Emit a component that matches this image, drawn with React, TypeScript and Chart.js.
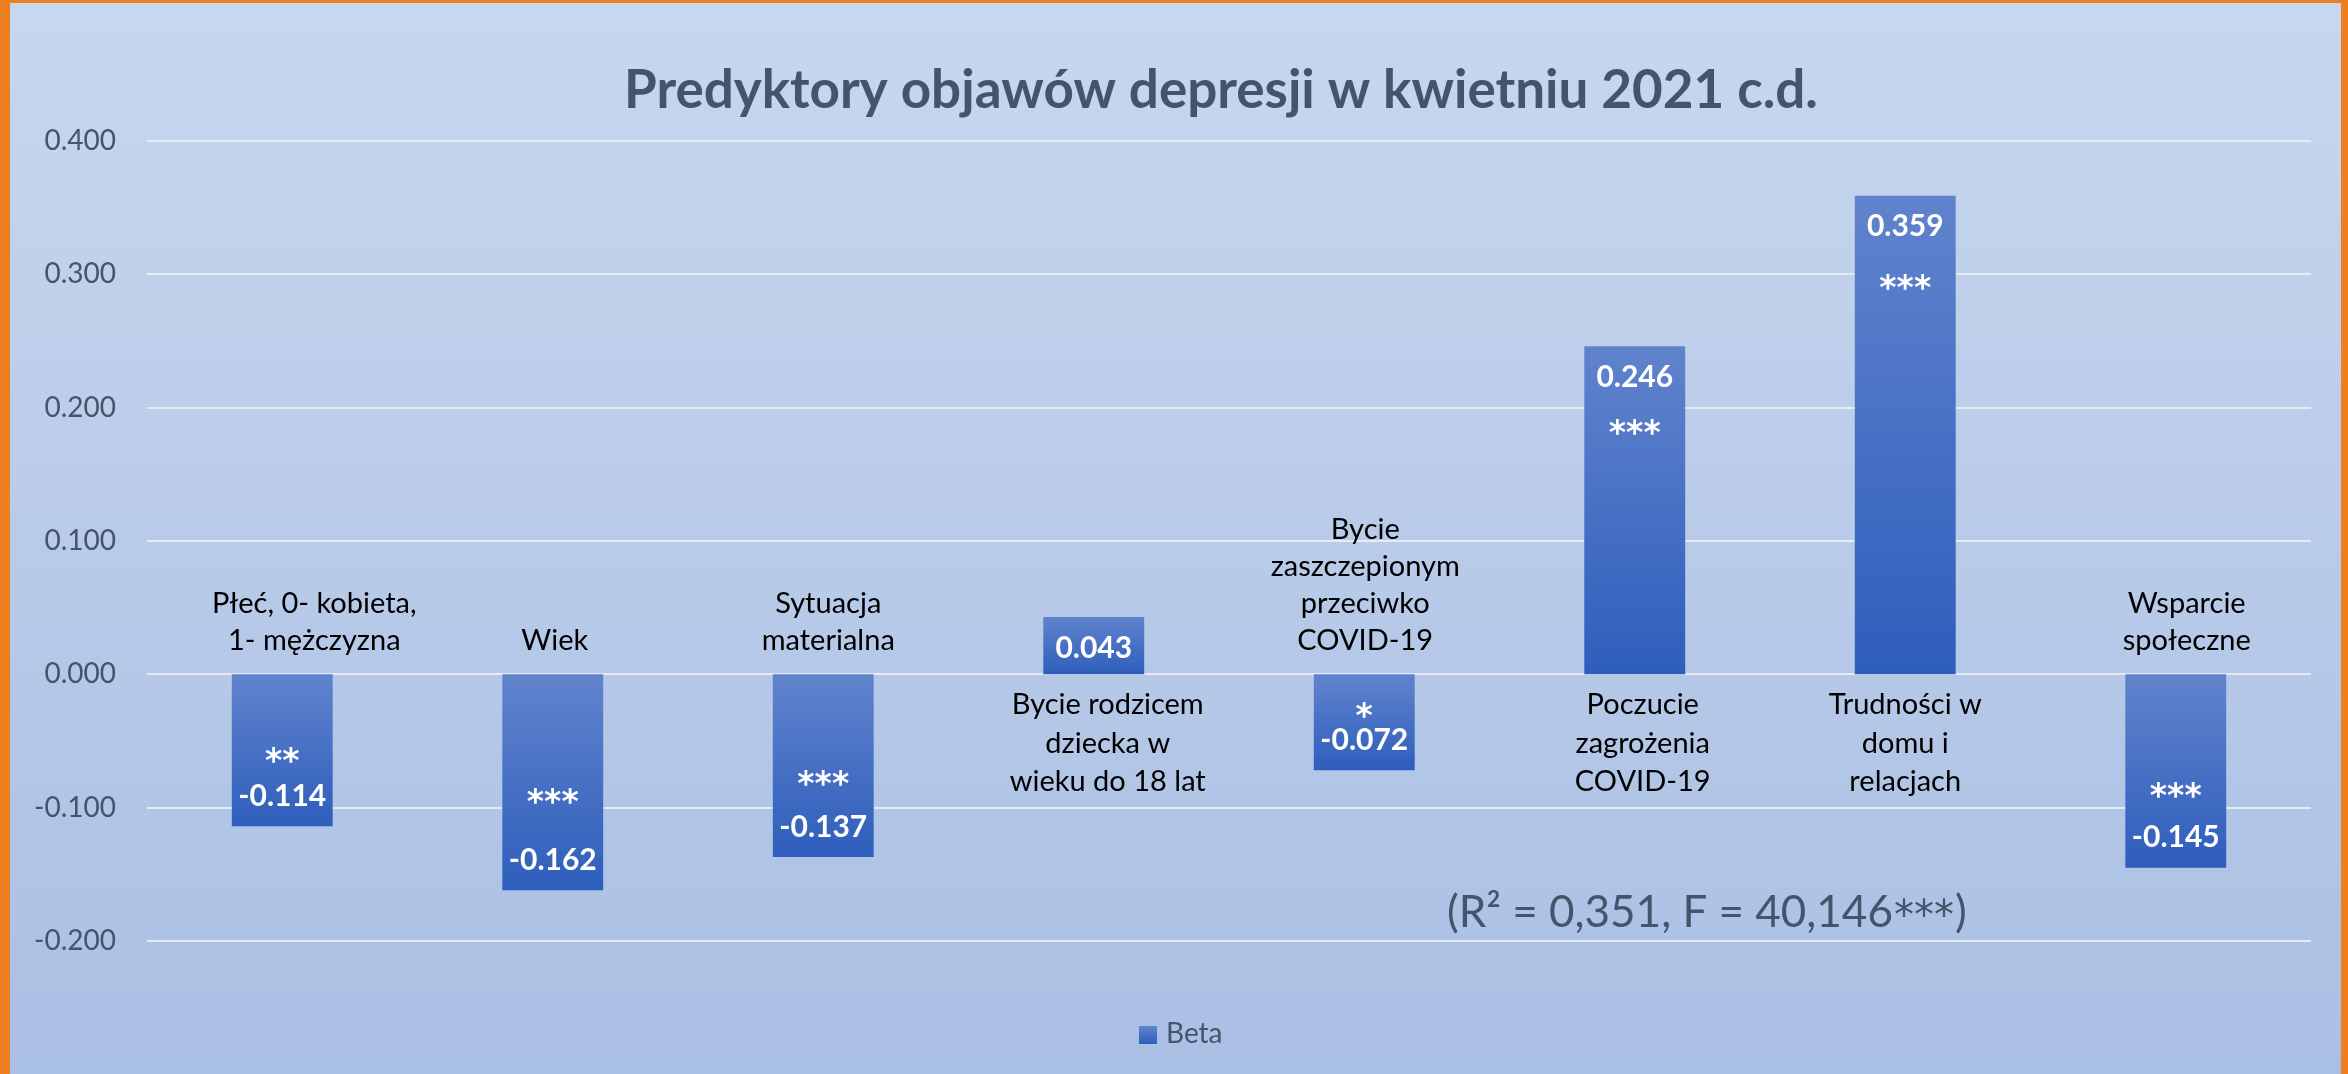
import React, { useEffect, useRef } from "react";
import { Chart, registerables } from "chart.js";

Chart.register(...registerables);

// ---------- data ----------
const TITLE = "Predyktory objawów depresji w kwietniu 2021 c.d.";
const SERIES_NAME = "Beta";
const CATEGORIES: string[][] = [
  ["Płeć, 0- kobieta,", "1- mężczyzna"],
  ["Wiek"],
  ["Sytuacja", "materialna"],
  ["Bycie rodzicem", "dziecka w", "wieku do 18 lat"],
  ["Bycie", "zaszczepionym", "przeciwko", "COVID-19"],
  ["Poczucie", "zagrożenia", "COVID-19"],
  ["Trudności w", "domu i", "relacjach"],
  ["Wsparcie", "społeczne"],
];
const BETA = [-0.114, -0.162, -0.137, 0.043, -0.072, 0.246, 0.359, -0.145];
const SIGNIFICANCE = ["**", "***", "***", "", "*", "***", "***", "***"];
const Y_MIN = -0.2;
const Y_MAX = 0.4;
const Y_STEP = 0.1;
const MODEL_NOTE_TEXT = "(R² = 0,351, F = 40,146";
const MODEL_NOTE_STARS = "***";
const MODEL_NOTE_END = ")";

// ---------- styling / layout ----------
const FONT = "Lato, 'Noto Sans', 'DejaVu Sans', sans-serif";
const STAR_FONT = "'DejaVu Sans', sans-serif";
const TEXT_GRAY = "#44546A";
const BAR_LIGHT = "#6183CD";
const BAR_DARK = "#2E5EBC";
const STAR_GAP = [42, 65, 50, 0, 31, 49, 54, 49];
const LABEL_DX = [32, 2, 5, 14, 1, 8, 0, 11];
const CANVAS_W = 2331;
const CANVAS_H = 1071;

function barGradient(c: CanvasRenderingContext2D, top: number, bottom: number) {
  const g = c.createLinearGradient(0, top, 0, bottom);
  g.addColorStop(0, BAR_LIGHT);
  g.addColorStop(1, BAR_DARK);
  return g;
}

const overlayPlugin = {
  id: "overlay",
  beforeDraw(chart: any) {
    const c = chart.ctx as CanvasRenderingContext2D;
    const g = c.createLinearGradient(0, 0, 0, chart.height);
    g.addColorStop(0, "#C7D7ED");
    g.addColorStop(1, "#AABFE4");
    c.save();
    c.fillStyle = g;
    c.fillRect(0, 0, chart.width, chart.height);
    c.restore();
  },
  afterDatasetsDraw(chart: any) {
    const c = chart.ctx as CanvasRenderingContext2D;
    const ys = chart.scales.y;
    const zeroY = ys.getPixelForValue(0);
    const meta = chart.getDatasetMeta(0);
    c.save();
    // data labels
    c.fillStyle = "#FFFFFF";
    c.textAlign = "center";
    meta.data.forEach((el: any, i: number) => {
      const v = BETA[i];
      const valueText = v.toFixed(3);
      const x = el.x;
      c.font = `bold 30px ${FONT}`;
      c.textBaseline = "middle";
      const vy = v < 0 ? el.y - 30 : el.y + 31;
      c.fillText(valueText, x, vy);
      const s = SIGNIFICANCE[i];
      if (s) {
        const sy = v < 0 ? vy - STAR_GAP[i] : vy + STAR_GAP[i];
        c.font = `bold 33px ${STAR_FONT}`;
        c.textBaseline = "alphabetic";
        c.fillText(s, x, sy + 18);
      }
    });
    // category labels
    c.fillStyle = "#000000";
    c.font = `29px ${FONT}`;
    c.textBaseline = "alphabetic";
    meta.data.forEach((el: any, i: number) => {
      const lines = CATEGORIES[i];
      const v = BETA[i];
      const x = el.x + LABEL_DX[i];
      if (v < 0) {
        const lh = 37;
        lines.forEach((ln, k) => {
          c.fillText(ln, x, zeroY - 24 - (lines.length - 1 - k) * lh);
        });
      } else {
        const lh = 38.5;
        lines.forEach((ln, k) => {
          c.fillText(ln, x, zeroY + 40 + k * lh);
        });
      }
    });
    c.restore();
  },
  afterDraw(chart: any) {
    const c = chart.ctx as CanvasRenderingContext2D;
    const area = chart.chartArea;
    c.save();
    // title
    c.fillStyle = TEXT_GRAY;
    c.font = `bold 53px ${FONT}`;
    c.textAlign = "center";
    c.textBaseline = "alphabetic";
    c.fillText(TITLE, (area.left + area.right) / 2 - 8, 105);
    // model note
    c.textAlign = "left";
    let nx = 1437;
    const ny = 924;
    c.font = `44px ${FONT}`;
    c.fillText(MODEL_NOTE_TEXT, nx, ny);
    nx += c.measureText(MODEL_NOTE_TEXT).width + 1;
    c.font = `40px ${STAR_FONT}`;
    c.fillText(MODEL_NOTE_STARS, nx, ny + 2);
    nx += c.measureText(MODEL_NOTE_STARS).width + 1;
    c.font = `44px ${FONT}`;
    c.fillText(MODEL_NOTE_END, nx, ny);
    // legend
    const sx = 1129, sy = 1023, sz = 18;
    c.fillStyle = barGradient(c, sy, sy + sz);
    c.fillRect(sx, sy, sz, sz);
    c.fillStyle = TEXT_GRAY;
    c.font = `28px ${FONT}`;
    c.fillText(SERIES_NAME, sx + sz + 9, 1040);
    c.restore();
  },
};

export default function App() {
  const ref = useRef<HTMLCanvasElement | null>(null);
  useEffect(() => {
    const canvas = ref.current;
    if (!canvas) return;
    const chart = new Chart(canvas, {
      type: "bar",
      data: {
        labels: CATEGORIES.map((l) => l.join(" ")),
        datasets: [
          {
            label: SERIES_NAME,
            data: BETA,
            barPercentage: 0.373,
            categoryPercentage: 1,
            borderWidth: 0,
            backgroundColor: (ctx: any) => {
              const ch = ctx.chart;
              const ys = ch.scales && ch.scales.y;
              if (!ys || !ch.chartArea || ctx.type !== "data") return "#4472C4";
              const v = BETA[ctx.dataIndex];
              const p0 = ys.getPixelForValue(0);
              const p1 = ys.getPixelForValue(v);
              return barGradient(ch.ctx, Math.min(p0, p1), Math.max(p0, p1));
            },
          },
        ],
      },
      options: {
        responsive: false,
        animation: false,
        devicePixelRatio: 1,
        events: [],
        layout: { padding: { left: 0, top: 138, right: 30, bottom: 133 } },
        plugins: {
          legend: { display: false },
          title: { display: false },
          tooltip: { enabled: false },
        },
        scales: {
          x: { display: false, grid: { display: false } },
          y: {
            min: Y_MIN,
            max: Y_MAX,
            afterFit: (s: any) => {
              s.width = 137;
            },
            ticks: {
              stepSize: Y_STEP,
              padding: 31,
              color: TEXT_GRAY,
              font: { size: 28, family: FONT },
              callback: (v: any) => Number(v).toFixed(3),
            },
            grid: { color: "rgba(232,236,244,0.95)", lineWidth: 2, drawTicks: false },
            border: { display: false },
          },
        },
      },
      plugins: [overlayPlugin],
    } as any);
    return () => chart.destroy();
  }, []);

  return (
    <div
      style={{
        position: "fixed",
        left: 0,
        top: 0,
        width: 2348,
        height: 1074,
        background: "#ED7F20",
        overflow: "hidden",
      }}
    >
      <canvas
        ref={ref}
        width={CANVAS_W}
        height={CANVAS_H}
        style={{ position: "absolute", left: 10, top: 3, width: CANVAS_W, height: CANVAS_H }}
      />
    </div>
  );
}
